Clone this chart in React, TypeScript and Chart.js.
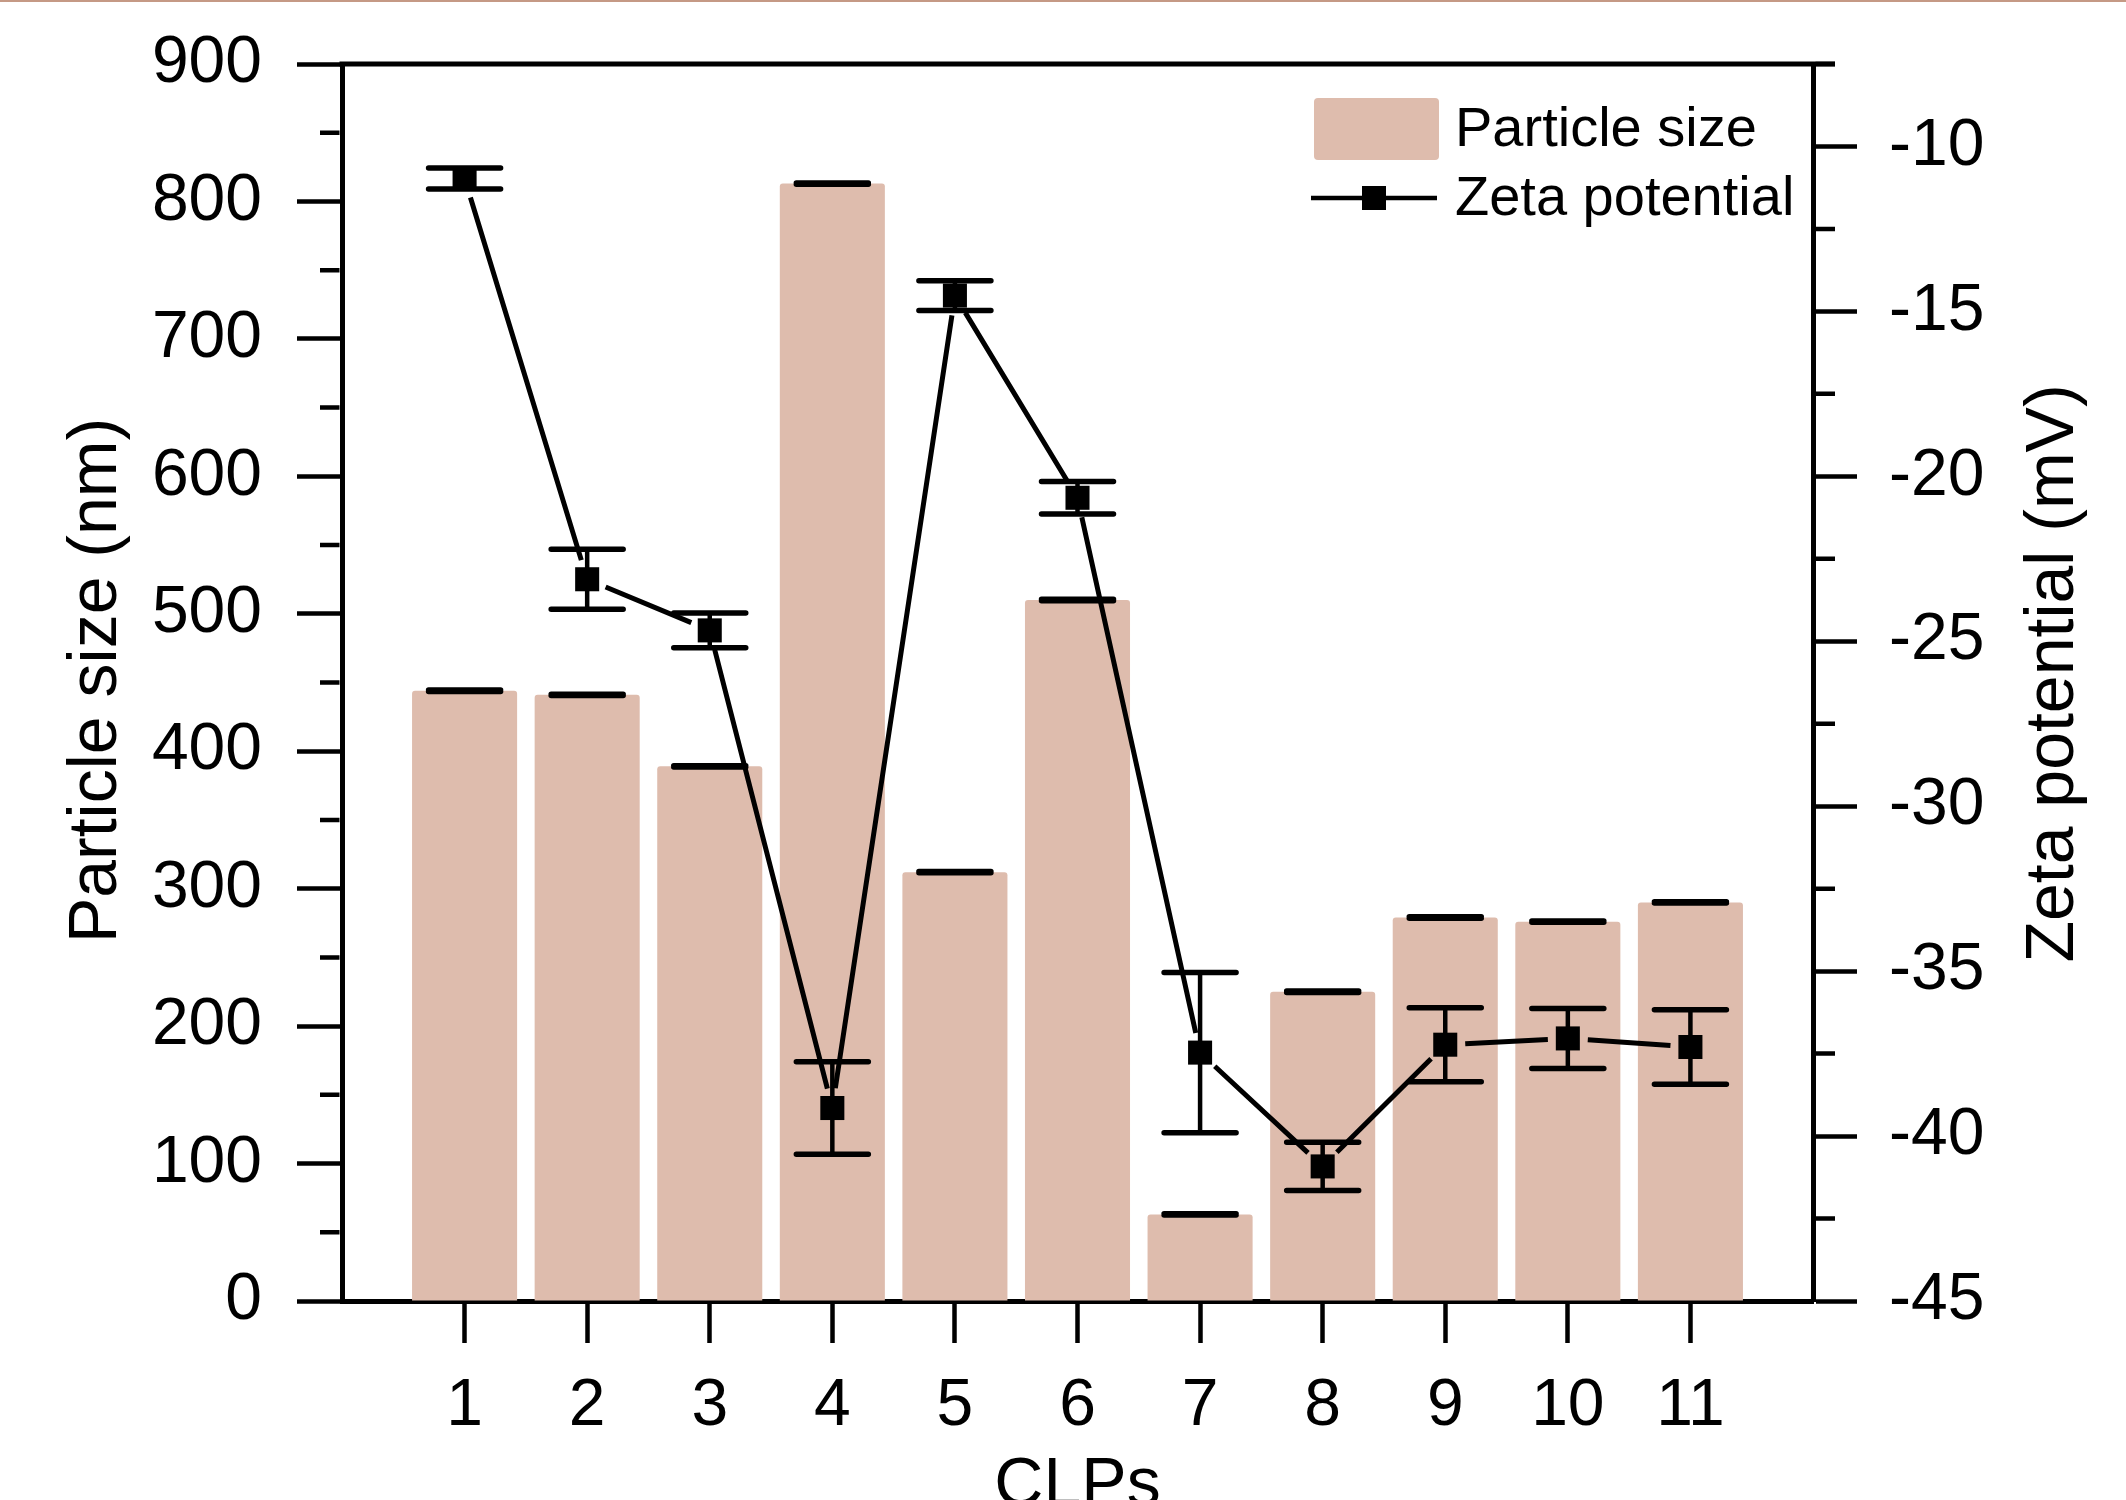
import React, { useEffect, useRef } from 'react';
import { Chart, registerables } from 'chart.js';

Chart.register(...registerables);

// ---------------- data ----------------
const categories = ['1', '2', '3', '4', '5', '6', '7', '8', '9', '10', '11'];
const clpIndex = [1, 2, 3, 4, 5, 6, 7, 8, 9, 10, 11];
const particleSize = [444, 441, 389, 813, 312, 510, 63, 225, 279, 276, 290];
const particleSizeErr = [0.5, 0.5, 0.5, 0.5, 0.5, 0.5, 0.5, 0.5, 0.5, 0.5, 0.5];
const zetaPotential = [-10.97, -23.12, -24.67, -39.15, -14.52, -20.65, -37.47, -40.92, -37.23, -37.04, -37.3];
const zetaPotentialErr = [0.32, 0.91, 0.53, 1.4, 0.45, 0.49, 2.43, 0.73, 1.12, 0.91, 1.13];
const leftMinorTicks = [50, 150, 250, 350, 450, 550, 650, 750, 850];
const rightMinorTicks = [-42.5, -37.5, -32.5, -27.5, -22.5, -17.5, -12.5, -7.5];
const rightMajorTicks = [-45, -40, -35, -30, -25, -20, -15, -10];

const FONT = "'Liberation Sans', Arial, Helvetica, sans-serif";
const BAR_COLOR = '#DEBCAD';

const decorPlugin = {
  id: 'decor',
  afterDatasetsDraw(chart: any) {
    const ctx = chart.ctx;
    const yS = chart.scales.y;
    const y2S = chart.scales.y2;
    ctx.save();
    ctx.strokeStyle = '#000';
    ctx.fillStyle = '#000';

    const drawErr = (px: number, top: number, bottom: number) => {
      ctx.lineWidth = 4.5;
      ctx.lineCap = 'butt';
      ctx.beginPath();
      ctx.moveTo(px, top);
      ctx.lineTo(px, bottom);
      ctx.stroke();
      ctx.lineWidth = 5.5;
      ctx.lineCap = 'round';
      ctx.beginPath();
      ctx.moveTo(px - 36, top);
      ctx.lineTo(px + 36, top);
      ctx.moveTo(px - 36, bottom);
      ctx.lineTo(px + 36, bottom);
      ctx.stroke();
    };

    // bar error caps
    const barMeta = chart.getDatasetMeta(0);
    barMeta.data.forEach((el: any, i: number) => {
      const v = particleSize[i];
      const e = particleSizeErr[i];
      drawErr(el.x, yS.getPixelForValue(v + e), yS.getPixelForValue(v - e));
    });

    // zeta line with gaps around symbols
    const pts = chart.getDatasetMeta(1).data;
    const gap = 20;
    ctx.lineWidth = 5;
    ctx.lineCap = 'butt';
    ctx.beginPath();
    for (let i = 0; i < pts.length - 1; i++) {
      const a = pts[i];
      const b = pts[i + 1];
      const dx = b.x - a.x;
      const dy = b.y - a.y;
      const len = Math.hypot(dx, dy);
      if (len <= gap * 2) continue;
      const ux = dx / len;
      const uy = dy / len;
      ctx.moveTo(a.x + ux * gap, a.y + uy * gap);
      ctx.lineTo(b.x - ux * gap, b.y - uy * gap);
    }
    ctx.stroke();

    // zeta error bars
    pts.forEach((el: any, i: number) => {
      const v = zetaPotential[i];
      const e = zetaPotentialErr[i];
      drawErr(el.x, y2S.getPixelForValue(v + e), y2S.getPixelForValue(v - e));
    });
    ctx.restore();
  },
  afterDraw(chart: any) {
    const ctx = chart.ctx;
    const area = chart.chartArea;
    const yS = chart.scales.y;
    const y2S = chart.scales.y2;
    ctx.save();
    ctx.strokeStyle = '#000';
    ctx.fillStyle = '#000';
    ctx.lineCap = 'butt';

    // top frame line
    ctx.lineWidth = 5;
    ctx.beginPath();
    ctx.moveTo(area.left - 2.5, area.top);
    ctx.lineTo(area.right + 22, area.top);
    ctx.stroke();

    // minor ticks
    ctx.lineWidth = 4.5;
    ctx.beginPath();
    leftMinorTicks.forEach((v) => {
      const py = yS.getPixelForValue(v);
      ctx.moveTo(area.left - 2.5, py);
      ctx.lineTo(area.left - 22, py);
    });
    rightMinorTicks.forEach((v) => {
      const py = y2S.getPixelForValue(v);
      ctx.moveTo(area.right + 2.5, py);
      ctx.lineTo(area.right + 22, py);
    });
    ctx.stroke();

    // axis titles
    ctx.font = `68px ${FONT}`;
    ctx.textAlign = 'center';
    ctx.textBaseline = 'middle';
    ctx.save();
    ctx.translate(97, (area.top + area.bottom) / 2 - 2);
    ctx.rotate(-Math.PI / 2);
    ctx.fillText('Particle size (nm)', 0, 0);
    ctx.restore();

    ctx.save();
    ctx.translate(2054, (area.top + area.bottom) / 2 - 9);
    ctx.rotate(-Math.PI / 2);
    ctx.fillText('Zeta potential (mV)', 0, 0);
    ctx.restore();

    ctx.textBaseline = 'alphabetic';
    ctx.fillText('CLPs', (area.left + area.right) / 2, 1505);

    // legend
    const ds = chart.data.datasets;
    ctx.fillStyle = BAR_COLOR;
    ctx.beginPath();
    ctx.roundRect(1314, 98, 125, 62, 4);
    ctx.fill();
    ctx.fillStyle = '#000';
    ctx.font = `56px ${FONT}`;
    ctx.textAlign = 'left';
    ctx.textBaseline = 'middle';
    ctx.fillText(ds[0].label, 1455, 131);

    ctx.lineWidth = 4.5;
    ctx.beginPath();
    ctx.moveTo(1311, 198);
    ctx.lineTo(1437, 198);
    ctx.stroke();
    ctx.fillRect(1374 - 12, 198 - 12, 24, 24);
    ctx.fillText(ds[1].label, 1455, 200);

    ctx.restore();
  },
};

export default function App() {
  const ref = useRef<HTMLCanvasElement | null>(null);

  useEffect(() => {
    document.body.style.margin = '0';
    const canvas = ref.current;
    if (!canvas) return;
    const chart = new Chart(canvas, {
      type: 'bar',
      data: {
        datasets: [
          {
            type: 'bar',
            label: 'Particle size',
            data: clpIndex.map((x, i) => ({ x, y: particleSize[i] })),
            backgroundColor: BAR_COLOR,
            borderWidth: 0,
            borderRadius: 3,
            barPercentage: 0.857,
            categoryPercentage: 1,
            yAxisID: 'y',
            xAxisID: 'x',
            order: 2,
          } as any,
          {
            type: 'line',
            label: 'Zeta potential',
            data: clpIndex.map((x, i) => ({ x, y: zetaPotential[i] })),
            showLine: false,
            pointStyle: 'rect',
            pointRadius: 17,
            pointHoverRadius: 17,
            pointBackgroundColor: '#000',
            pointBorderColor: '#000',
            pointBorderWidth: 0,
            borderColor: '#000',
            yAxisID: 'y2',
            xAxisID: 'x',
            order: 1,
          } as any,
        ],
      },
      options: {
        responsive: false,
        maintainAspectRatio: false,
        animation: false,
        events: [],
        layout: { padding: { top: 64, left: 0, right: 0, bottom: 0 } },
        plugins: {
          legend: { display: false },
          tooltip: { enabled: false },
        },
        scales: {
          x: {
            type: 'linear',
            position: 'bottom',
            min: 0,
            max: 12,
            offset: false,
            afterBuildTicks: (s: any) => {
              s.ticks = clpIndex.map((v) => ({ value: v }));
            },
            afterFit: (s: any) => {
              s.height = 199;
            },
            ticks: {
              autoSkip: false,
              maxRotation: 0,
              color: '#000',
              padding: 31,
              font: { family: FONT, size: 66, lineHeight: 1 },
              callback: (v: any) => {
                const idx = clpIndex.indexOf(Number(v));
                return idx >= 0 ? categories[idx] : '';
              },
            },
            grid: {
              drawOnChartArea: false,
              offset: false,
              tickLength: 42,
              tickWidth: 4.5,
              tickColor: '#000',
            },
            border: { display: true, color: '#000', width: 5 },
          },
          y: {
            type: 'linear',
            position: 'left',
            min: 0,
            max: 900,
            afterFit: (s: any) => {
              s.width = 342;
            },
            ticks: {
              stepSize: 100,
              color: '#000',
              padding: 35,
              font: { family: FONT, size: 66, lineHeight: 0.4 },
            },
            grid: {
              drawOnChartArea: false,
              tickLength: 45,
              tickWidth: 4.5,
              tickColor: '#000',
            },
            border: { display: true, color: '#000', width: 5 },
          },
          y2: {
            type: 'linear',
            position: 'right',
            min: -45,
            max: -7.5,
            afterBuildTicks: (s: any) => {
              s.ticks = rightMajorTicks.map((v) => ({ value: v }));
            },
            afterFit: (s: any) => {
              s.width = 313;
            },
            ticks: {
              stepSize: 5,
              color: '#000',
              padding: 32,
              font: { family: FONT, size: 66, lineHeight: 0.4 },
            },
            grid: {
              drawOnChartArea: false,
              tickLength: 44,
              tickWidth: 4.5,
              tickColor: '#000',
            },
            border: { display: true, color: '#000', width: 5 },
          },
        },
      } as any,
      plugins: [decorPlugin],
    });
    return () => chart.destroy();
  }, []);

  return (
    <div style={{ position: 'fixed', left: 0, top: 0, width: 2126, height: 1500, background: '#fff' }}>
      <canvas ref={ref} width={2126} height={1500} style={{ display: 'block', width: 2126, height: 1500 }} />
      <div style={{ position: 'absolute', left: 0, top: 0, width: 2126, height: 2, background: '#C59985' }} />
    </div>
  );
}
